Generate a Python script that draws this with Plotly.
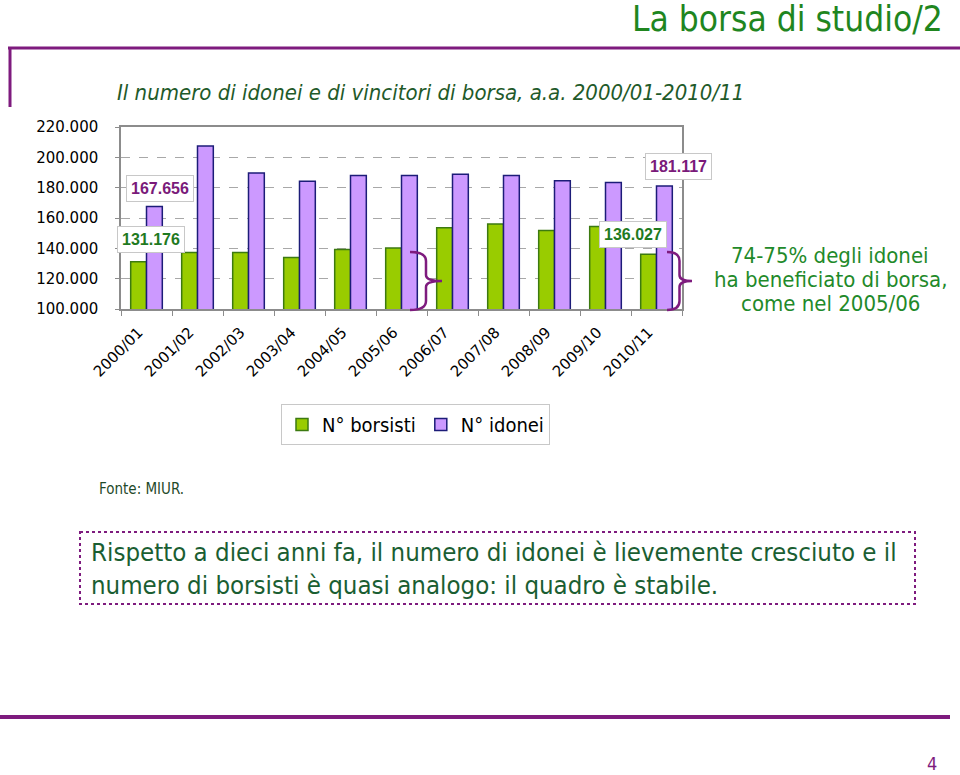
import plotly.graph_objects as go

# ---------------- data ----------------
years = ["2000/01", "2001/02", "2002/03", "2003/04", "2004/05", "2005/06",
         "2006/07", "2007/08", "2008/09", "2009/10", "2010/11"]
borsisti = [131176, 137300, 137300, 134000, 139300, 140200,
            153500, 156000, 151800, 154400, 136027]
idonei = [167656, 207500, 189700, 184300, 188000, 188000,
          188900, 188000, 184500, 183400, 181117]
y_ticks = [100000, 120000, 140000, 160000, 180000, 200000, 220000]
note_lines = ["74-75% degli idonei", "ha beneficiato di borsa,", "come nel 2005/06"]
box_lines = ["Rispetto a dieci anni fa, il numero di idonei è lievemente cresciuto e il",
             "numero di borsisti è quasi analogo: il quadro è stabile."]

# ---------------- layout geometry (pixels) ----------------
W, H = 960, 775
L, R, T, B = 121, 682, 127, 309
PW, PH = R - L, B - T


def px(x):
    return (x - L) / PW


def py(y):
    return (B - y) / PH


def fmt(v):
    return f"{v:,}".replace(",", ".")


GREEN_FILL = "#99cc00"
GREEN_LINE = "#3c7a10"
PURPLE_FILL = "#cc99ff"
PURPLE_LINE = "#1c1c78"
DARK_PURPLE = "#7e1b7e"
FONT = "DejaVu Sans Condensed, DejaVu Sans"

fig = go.Figure()
fig.add_trace(go.Bar(x=years, y=borsisti, name="N° borsisti",
                     marker=dict(color=GREEN_FILL, line=dict(color=GREEN_LINE, width=1.5))))
fig.add_trace(go.Bar(x=years, y=idonei, name="N° idonei",
                     marker=dict(color=PURPLE_FILL, line=dict(color=PURPLE_LINE, width=1.5))))

annotations = []
shapes = []

# data labels
lab_font = dict(family="Liberation Sans, Arial", size=16)
label_specs = [
    (years[0], borsisti[0], 4, 22, "#1f7a1f"),
    (years[0], idonei[0], 13, 18, "#7a1a7a"),
    (years[-1], borsisti[-1], -24, 20, "#1f7a1f"),
    (years[-1], idonei[-1], 22, 19, "#7a1a7a"),
]
for xv, yv, dx, dy, col in label_specs:
    annotations.append(dict(x=xv, y=yv, xref="x", yref="y", text="<b>" + fmt(yv) + "</b>",
                            showarrow=False, xshift=dx, yshift=dy,
                            font=dict(color=col, **lab_font),
                            bgcolor="white", bordercolor="#c8c8c8",
                            borderwidth=1, borderpad=4))

# title
annotations.append(dict(x=px(945), y=py(19), xref="paper", yref="paper",
                        text="La borsa di studio/2", showarrow=False,
                        xanchor="right", yanchor="middle",
                        font=dict(family=FONT, size=35, color="#1f861f")))
# subtitle
annotations.append(dict(x=px(115), y=py(92), xref="paper", yref="paper",
                        text="<i>Il numero di idonei e di vincitori di borsa, a.a. 2000/01-2010/11</i>",
                        showarrow=False, xanchor="left", yanchor="middle",
                        font=dict(family=FONT, size=22, color="#1f5a2a")))
# side note
for i, t in enumerate(note_lines):
    annotations.append(dict(x=px(830), y=py(255 + 24 * i), xref="paper", yref="paper",
                            text=t, showarrow=False, xanchor="center", yanchor="middle",
                            font=dict(family=FONT, size=22, color="#1f8a2a")))
# source
annotations.append(dict(x=px(97), y=py(489), xref="paper", yref="paper",
                        text="Fonte: MIUR.", showarrow=False, xanchor="left", yanchor="middle",
                        font=dict(family=FONT, size=15, color="#1f4a2a")))
# bottom box text
annotations.append(dict(x=px(89), y=py(568), xref="paper", yref="paper",
                        text="<br>".join(box_lines), showarrow=False,
                        xanchor="left", yanchor="middle", align="left",
                        font=dict(family=FONT, size=25.6, color="#1a5e32")))
# page number
annotations.append(dict(x=px(939), y=py(763), xref="paper", yref="paper",
                        text="4", showarrow=False, xanchor="right", yanchor="middle",
                        font=dict(family=FONT, size=18, color=DARK_PURPLE)))


def line(x0, y0, x1, y1, width, color=DARK_PURPLE):
    return dict(type="line", xref="paper", yref="paper",
                x0=px(x0), y0=py(y0), x1=px(x1), y1=py(y1),
                line=dict(color=color, width=width))


shapes.append(line(8, 48, 960, 48, 3))
shapes.append(line(10, 48, 10, 107, 3))
shapes.append(line(0, 717, 950, 717, 4))
shapes.append(dict(type="rect", xref="paper", yref="paper",
                   x0=px(80), y0=py(532), x1=px(915), y1=py(604),
                   line=dict(color=DARK_PURPLE, width=2, dash="dot")))


def brace(x0, xt, ytop, ybot):
    xm = (x0 + xt) / 2
    ym = (ytop + ybot) / 2
    pts = [
        ("M", [(x0, ytop)]),
        ("Q", [(xm, ytop), (xm, ytop + 9)]),
        ("L", [(xm, ym - 6)]),
        ("Q", [(xm, ym), (xt, ym)]),
        ("Q", [(xm, ym), (xm, ym + 6)]),
        ("L", [(xm, ybot - 9)]),
        ("Q", [(xm, ybot), (x0, ybot)]),
    ]
    path = " ".join(cmd + " ".join(f"{px(a):.5f},{py(b):.5f}" for a, b in p) for cmd, p in pts)
    return dict(type="path", xref="paper", yref="paper", path=path,
                line=dict(color=DARK_PURPLE, width=2.5))


shapes.append(brace(410, 442, 252, 310))
shapes.append(brace(667, 692, 252, 310))

fig.update_layout(
    width=W, height=H,
    margin=dict(l=L, r=W - R, t=T, b=H - B, pad=0),
    paper_bgcolor="white", plot_bgcolor="white",
    separators=",.",
    barmode="group", bargap=0.38, bargroupgap=0,
    showlegend=True,
    legend=dict(orientation="h", x=px(281), y=py(404), xanchor="left", yanchor="top",
                bordercolor="#c8c8c8", borderwidth=1,
                font=dict(family=FONT, size=20, color="black"),
                itemwidth=30, traceorder="normal"),
    annotations=annotations,
    shapes=shapes,
    font=dict(family=FONT),
)
fig.update_xaxes(type="category", range=[-0.5, len(years) - 0.5],
                 showline=True, linecolor="#8c8c8c", linewidth=1.5, mirror=True,
                 ticks="outside", ticklen=5, tickcolor="#8c8c8c", tickson="boundaries",
                 tickangle=-45, ticklabelstandoff=7, ticklabelshift=-8,
                 tickfont=dict(family="DejaVu Sans", size=15, color="black"),
                 showgrid=False)
fig.update_yaxes(range=[100000, 220000], tickvals=y_ticks, tickformat=",d",
                 showline=True, linecolor="#8c8c8c", linewidth=1.5, mirror=True,
                 ticks="outside", ticklen=4, tickcolor="#8c8c8c",
                 ticklabelstandoff=14,
                 tickfont=dict(family="DejaVu Sans", size=15, color="black"),
                 showgrid=True, gridcolor="#a8a8a8", griddash="dash", gridwidth=1,
                 zeroline=False)

fig.write_html("out.html")
